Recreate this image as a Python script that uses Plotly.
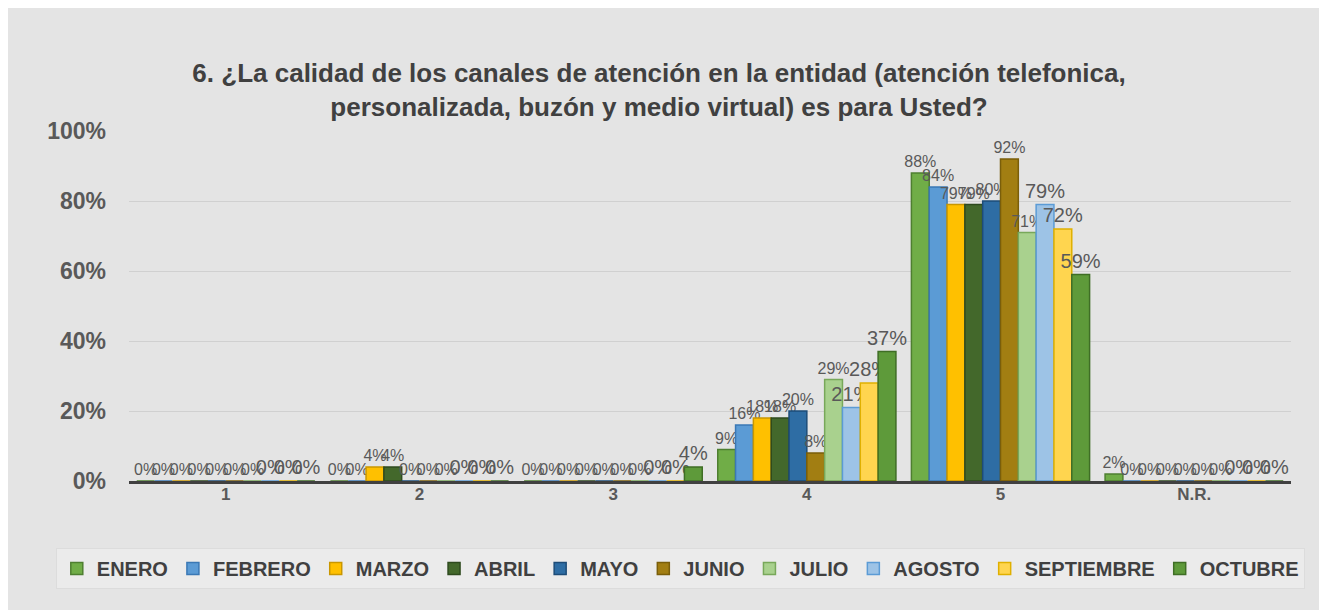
import plotly.graph_objects as go

categories = ["1", "2", "3", "4", "5", "N.R."]
months = ["ENERO", "FEBRERO", "MARZO", "ABRIL", "MAYO", "JUNIO",
          "JULIO", "AGOSTO", "SEPTIEMBRE", "OCTUBRE"]
values = {
    "ENERO":      [0, 0, 0, 0.09, 0.88, 0.02],
    "FEBRERO":    [0, 0, 0, 0.16, 0.84, 0],
    "MARZO":      [0, 0.04, 0, 0.18, 0.79, 0],
    "ABRIL":      [0, 0.04, 0, 0.18, 0.79, 0],
    "MAYO":       [0, 0, 0, 0.20, 0.80, 0],
    "JUNIO":      [0, 0, 0, 0.08, 0.92, 0],
    "JULIO":      [0, 0, 0, 0.29, 0.71, 0],
    "AGOSTO":     [0, 0, 0, 0.21, 0.79, 0],
    "SEPTIEMBRE": [0, 0, 0, 0.28, 0.72, 0],
    "OCTUBRE":    [0, 0, 0.04, 0.37, 0.59, 0],
}
fill_colors = ["#70AD47", "#5B9BD5", "#FFC000", "#43682B", "#2E6DA4",
               "#A27E12", "#A9D18E", "#9DC3E6", "#FFD54F", "#5E9A3A"]
line_colors = ["#4E7F30", "#3A78B5", "#C99700", "#2E4A1E", "#1D4C78",
               "#7A5E0A", "#78A85A", "#5B9BD5", "#E0B000", "#3F6E25"]
label_sizes = [16, 16, 16, 16, 16, 16, 16, 20, 20, 20]

fig = go.Figure()
for i, m in enumerate(months):
    fig.add_trace(go.Bar(
        name=m, x=categories, y=values[m],
        marker=dict(color=fill_colors[i], line=dict(color=line_colors[i], width=1.5)),
        text=[f"{round(v*100)}%" for v in values[m]],
        textposition="outside", constraintext="none", cliponaxis=False,
        textfont=dict(family="Liberation Sans", size=label_sizes[i], color="#595959"),
    ))

fig.update_layout(
    width=1319, height=602,
    margin=dict(l=121, r=36, t=123, b=129),
    paper_bgcolor="#e4e4e4", plot_bgcolor="#e4e4e4",
    barmode="group", bargap=0.08, bargroupgap=0,
    title=dict(
        text="6. ¿La calidad de los canales de atención en la entidad (atención telefonica,<br>personalizada, buzón y medio virtual) es para Usted?",
        x=0.4936, xanchor="center", y=0.877, yanchor="middle",
        font=dict(family="Liberation Sans", size=26, color="#404040", weight="bold"),
    ),
    showlegend=True,
    legend=dict(
        orientation="h", x=-0.063, xanchor="left", xref="paper",
        y=-0.25, yanchor="middle", yref="paper",
        font=dict(family="Liberation Sans", size=20, color="#404040", weight="bold"),
        bgcolor="#ebebeb", bordercolor="#dcdcdc", borderwidth=1,
        itemwidth=30, tracegroupgap=0,
    ),
    xaxis=dict(
        showline=True, linecolor="#404040", linewidth=3,
        tickfont=dict(family="Liberation Sans", size=17, color="#595959", weight="bold"),
        ticks="", showgrid=False, ticklabelstandoff=-4,
    ),
    yaxis=dict(
        range=[0, 1], tickvals=[0, 0.2, 0.4, 0.6, 0.8, 1.0], tickformat=".0%",
        tickfont=dict(family="Liberation Sans", size=23, color="#595959", weight="bold"),
        showgrid=True, gridcolor="#d0d0d0", gridwidth=1, zeroline=False,
        ticklabelstandoff=22,
    ),
)

fig.write_html("out.html")
